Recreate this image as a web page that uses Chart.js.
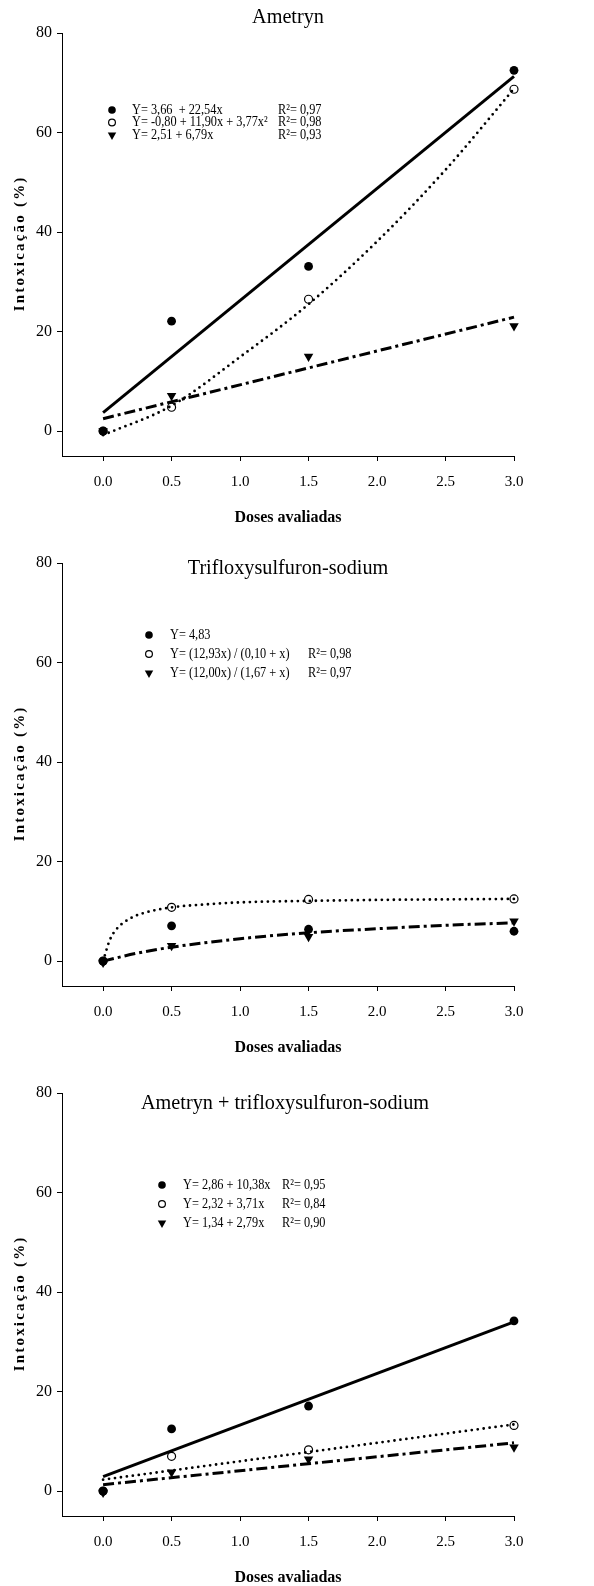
<!DOCTYPE html>
<html>
<head>
<meta charset="utf-8">
<script src="https://cdn.jsdelivr.net/npm/chart.js@4.4.0/dist/chart.umd.min.js"></script>
<style>
    html, body { margin: 0; padding: 0; background: #fff; overflow: hidden; }
    canvas { display: block; }
</style>
</head>
<body>
<canvas id="ametrynChart" width="594" height="530"></canvas>
<canvas id="triflChart" width="594" height="530"></canvas>
<canvas id="mixChart" width="594" height="530"></canvas>
<script>
// === dados ===
const doses = [0, 0.5, 1.5, 3.0];
const xTicks = [0, 0.5, 1.0, 1.5, 2.0, 2.5, 3.0];
const yTicks = [0, 20, 40, 60, 80];

// Ametryn
const ametrynFilled = [0, 22.1, 33.1, 72.5];
const ametrynOpen = [0, 4.8, 26.5, 68.7];
const ametrynTri = [0, 7.1, 15.0, 21.1];
const ametrynLinX = [0, 3.0];
const ametrynFitFilled = [3.7, 71.3];
const ametrynFitTri = [2.5, 22.9];
const ametrynCurveX = [0, 0.5, 1.0, 1.5, 2.0, 2.5, 3.0];
const ametrynFitOpen = [-0.8, 5.1, 14.9, 25.5, 38.1, 52.5, 68.8];
const ametrynEq = ["Y= 3,66  + 22,54x", "Y= -0,80 + 11,90x + 3,77x²", "Y= 2,51 + 6,79x"];
const ametrynR2 = ["R²= 0,97", "R²= 0,98", "R²= 0,93"];

// Trifloxysulfuron-sodium
const triflFilled = [0, 7.1, 6.4, 6.0];
const triflOpen = [0, 10.8, 12.4, 12.5];
const triflTri = [-0.3, 3.1, 4.9, 8.0];
const triflOpenCurveX = [0, 0.05, 0.1, 0.2, 0.3, 0.5, 0.75, 1.0, 1.5, 2.0, 2.5, 3.0];
const triflFitOpen = [0, 4.3, 6.5, 8.6, 9.7, 10.8, 11.4, 11.8, 12.1, 12.3, 12.4, 12.5];
const triflTriCurveX = [0, 0.25, 0.5, 1.0, 1.5, 2.0, 2.5, 3.0];
const triflFitTri = [0, 1.6, 2.8, 4.5, 5.7, 6.5, 7.2, 7.7];
const triflEq = ["Y= 4,83", "Y= (12,93x) / (0,10 + x)", "Y= (12,00x) / (1,67 + x)"];
const triflR2 = ["", "R²= 0,98", "R²= 0,97"];

// Ametryn + trifloxysulfuron-sodium
const mixFilled = [0, 12.5, 17.1, 34.2];
const mixOpen = [0, 7.0, 8.3, 13.2];
const mixTri = [-0.3, 3.8, 6.4, 8.8];
const mixLinX = [0, 3.0];
const mixFitFilled = [2.9, 34.0];
const mixFitOpen = [2.3, 13.4];
const mixFitTri = [1.3, 9.7];
const mixEq = ["Y= 2,86 + 10,38x", "Y= 2,32 + 3,71x", "Y= 1,34 + 2,79x"];
const mixR2 = ["R²= 0,95", "R²= 0,84", "R²= 0,90"];

const serif = "'Liberation Serif', 'Times New Roman', serif";

// estilos dos marcadores (cheio, vazio, triângulo)
const markers = [
    { pointStyle: "circle", radius: 4.4, rotation: 0, backgroundColor: "#000", borderColor: "#000", borderWidth: 0 },
    { pointStyle: "circle", radius: 4, rotation: 0, backgroundColor: "#fff", borderColor: "#000", borderWidth: 1.2 },
    { pointStyle: "triangle", radius: 5.5, rotation: 180, backgroundColor: "#000", borderColor: "#000", borderWidth: 0 }
];

// estilos das linhas de ajuste
const lineStyles = {
    solid: { borderWidth: 3, borderDash: [], borderCapStyle: "butt" },
    dotted: { borderWidth: 2.8, borderDash: [0, 6], borderCapStyle: "round" },
    dashdot: { borderWidth: 3, borderDash: [11, 4, 3, 4], borderCapStyle: "butt" }
};

const pts = (xs, ys) => xs.map((x, i) => ({ x, y: ys[i] }));

function pointSet(values, m, order) {
    return {
        data: pts(doses, values),
        showLine: false,
        clip: false,
        pointStyle: m.pointStyle,
        pointRadius: m.radius,
        pointRotation: m.rotation,
        pointBackgroundColor: m.backgroundColor,
        pointBorderColor: m.borderColor,
        pointBorderWidth: m.borderWidth,
        order
    };
}

function fitSet(xs, ys, style, curved) {
    const s = lineStyles[style];
    return {
        data: pts(xs, ys),
        showLine: true,
        clip: false,
        pointRadius: 0,
        borderColor: "#000",
        borderWidth: s.borderWidth,
        borderDash: s.borderDash,
        borderCapStyle: s.borderCapStyle,
        cubicInterpolationMode: curved ? "monotone" : "default",
        fill: false,
        order: 0
    };
}

// texto levemente condensado, como no original
function condensed(ctx, text, x, y, sx) {
    ctx.save();
    ctx.translate(x, y);
    ctx.scale(sx, 1);
    ctx.fillText(text, 0, 0);
    ctx.restore();
}

// plugin: título do painel, legenda com equações e título do eixo y
const panelText = {
    id: "panelText",
    afterDraw(chart, args, opts) {
        const ctx = chart.ctx;
        const area = chart.chartArea;
        ctx.save();
        ctx.fillStyle = "#000";

        ctx.font = `22px ${serif}`;
        ctx.textAlign = "center";
        ctx.textBaseline = "middle";
        condensed(ctx, opts.title, opts.titleX, opts.titleY, 0.92);

        ctx.save();
        ctx.translate(opts.yTitleX, (area.top + area.bottom) / 2);
        ctx.rotate(-Math.PI / 2);
        ctx.font = `bold 15px ${serif}`;
        ctx.letterSpacing = "2.2px";
        ctx.fillText("Intoxicação (%)", 1.1, 0);
        ctx.restore();

        ctx.font = `14px ${serif}`;
        ctx.textAlign = "left";
        opts.equations.forEach((eq, i) => {
            const y = opts.legendY + i * opts.legendGap;
            const m = markers[i];
            ctx.save();
            ctx.fillStyle = m.backgroundColor;
            ctx.strokeStyle = m.borderColor;
            ctx.lineWidth = m.borderWidth;
            Chart.helpers.drawPoint(ctx, {
                pointStyle: m.pointStyle,
                radius: m.radius - 0.6,
                rotation: m.rotation,
                borderWidth: m.borderWidth
            }, opts.markerX, y);
            ctx.restore();
            condensed(ctx, eq, opts.textX, y, 0.88);
            if (opts.r2[i]) condensed(ctx, opts.r2[i], opts.r2X, y, 0.88);
        });
        ctx.restore();
    }
};

function makeChart(id, datasets, text) {
    new Chart(document.getElementById(id), {
        type: "scatter",
        data: { datasets },
        options: {
            responsive: false,
            animation: false,
            layout: { padding: { top: 33, right: 80, left: 0, bottom: 0 } },
            plugins: {
                legend: { display: false },
                tooltip: { enabled: false },
                panelText: text
            },
            scales: {
                x: {
                    type: "linear",
                    min: -0.3,
                    max: 3.0,
                    afterBuildTicks: s => { s.ticks = xTicks.map(v => ({ value: v })); },
                    afterFit: s => { s.height = 74; },
                    grid: { drawOnChartArea: false, tickLength: 5, color: "#000", lineWidth: 1 },
                    border: { color: "#000", width: 1 },
                    ticks: {
                        color: "#000",
                        padding: 12,
                        autoSkip: false,
                        maxRotation: 0,
                        font: { family: serif, size: 15 },
                        callback: v => Number(v).toFixed(1)
                    },
                    title: {
                        display: true,
                        text: "Doses avaliadas",
                        color: "#000",
                        font: { family: serif, size: 16, weight: "bold" },
                        padding: { top: 0, bottom: 3 }
                    }
                },
                y: {
                    type: "linear",
                    min: -5,
                    max: 80,
                    afterBuildTicks: s => { s.ticks = yTicks.map(v => ({ value: v })); },
                    afterFit: s => { s.width = 62; },
                    grid: { drawOnChartArea: false, tickLength: 5, color: "#000", lineWidth: 1 },
                    border: { color: "#000", width: 1 },
                    ticks: {
                        color: "#000",
                        padding: 5,
                        font: { family: serif, size: 16 }
                    }
                }
            }
        },
        plugins: [panelText]
    });
}

// === 1. Ametryn ===
makeChart("ametrynChart", [
    fitSet(ametrynLinX, ametrynFitFilled, "solid", false),
    fitSet(ametrynCurveX, ametrynFitOpen, "dotted", true),
    fitSet(ametrynLinX, ametrynFitTri, "dashdot", false),
    pointSet(ametrynTri, markers[2], 1),
    pointSet(ametrynFilled, markers[0], 2),
    pointSet(ametrynOpen, markers[1], 3)
], {
    title: "Ametryn", titleX: 288, titleY: 17, yTitleX: 20,
    equations: ametrynEq, r2: ametrynR2,
    markerX: 112, textX: 132, r2X: 278, legendY: 110, legendGap: 12.5
});

// === 2. Trifloxysulfuron-sodium ===
makeChart("triflChart", [
    fitSet(triflOpenCurveX, triflFitOpen, "dotted", true),
    fitSet(triflTriCurveX, triflFitTri, "dashdot", true),
    pointSet(triflTri, markers[2], 1),
    pointSet(triflFilled, markers[0], 2),
    pointSet(triflOpen, markers[1], 3)
], {
    title: "Trifloxysulfuron-sodium", titleX: 288, titleY: 38, yTitleX: 20,
    equations: triflEq, r2: triflR2,
    markerX: 149, textX: 170, r2X: 308, legendY: 105, legendGap: 19
});

// === 3. Ametryn + trifloxysulfuron-sodium ===
makeChart("mixChart", [
    fitSet(mixLinX, mixFitFilled, "solid", false),
    fitSet(mixLinX, mixFitOpen, "dotted", false),
    fitSet(mixLinX, mixFitTri, "dashdot", false),
    pointSet(mixTri, markers[2], 1),
    pointSet(mixFilled, markers[0], 2),
    pointSet(mixOpen, markers[1], 3)
], {
    title: "Ametryn + trifloxysulfuron-sodium", titleX: 285, titleY: 43, yTitleX: 20,
    equations: mixEq, r2: mixR2,
    markerX: 162, textX: 183, r2X: 282, legendY: 125, legendGap: 19
});
</script>
</body>
</html>
